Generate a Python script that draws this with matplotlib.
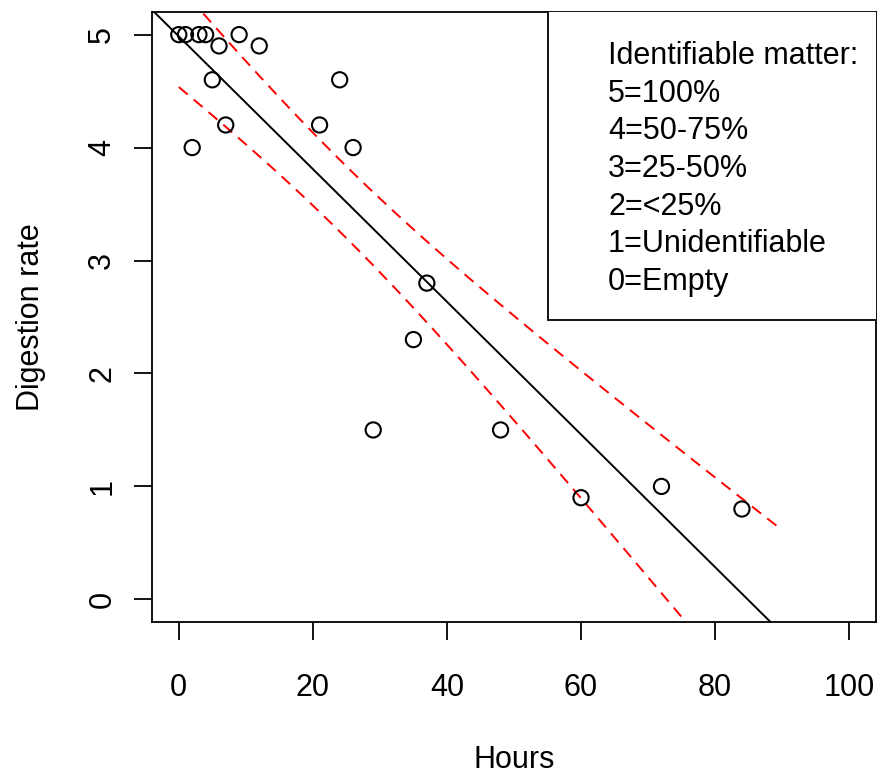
import matplotlib
matplotlib.use("Agg")
import matplotlib.pyplot as plt
import numpy as np

plt.rcParams["font.family"] = ["Liberation Sans", "DejaVu Sans"]

# stomach samples: hours since feeding vs digestion score
hours = [0, 1, 3, 4, 9, 2, 5, 6, 7, 12, 21, 24, 26, 29, 35, 37, 48, 60, 72, 84]
rate = [5, 5, 5, 5, 5, 4, 4.6, 4.9, 4.2, 4.9, 4.2, 4.6, 4.0, 1.5, 2.3, 2.8, 1.5, 0.9, 1.0, 0.8]
x_ticks = [0, 20, 40, 60, 80, 100]
y_ticks = [0, 1, 2, 3, 4, 5]
legend_lines = ["Identifiable matter:", "5=100%", "4=50-75%", "3=25-50%",
                "2=<25%", "1=Unidentifiable", "0=Empty"]

x = np.array(hours, dtype=float)
y = np.array(rate, dtype=float)

# linear fit and 95% confidence band for the mean
slope, intercept = np.polyfit(x, y, 1)
n = len(x)
resid = y - (intercept + slope * x)
s = np.sqrt(np.sum(resid ** 2) / (n - 2))
sxx = np.sum((x - x.mean()) ** 2)
t_crit = 2.101  # t(0.975, df=18)
grid = np.linspace(0, 90, 91)
fit = intercept + slope * grid
half = t_crit * s * np.sqrt(1 / n + (grid - x.mean()) ** 2 / sxx)

fig = plt.figure(figsize=(8.79, 7.76), dpi=100)
ax = fig.add_axes([0.1729, 0.1985, 0.8237, 0.786])

ax.scatter(x, y, s=120, facecolors="none", edgecolors="black", linewidths=1.5, zorder=3)
ax.axline((0, intercept), slope=slope, color="black", lw=1.4)
ax.plot(grid, fit + half, color="red", ls=(0, (6, 4)), lw=1.4)
ax.plot(grid, fit - half, color="red", ls=(0, (6, 4)), lw=1.4)

ax.set_xlim(-4, 104)
ax.set_ylim(-0.2, 5.2)
ax.set_xticks(x_ticks)
ax.set_yticks(y_ticks)
ax.tick_params(direction="out", length=13, width=1.3, labelsize=22)
ax.tick_params(axis="x", pad=24)
ax.tick_params(axis="y", pad=12)
for lab in ax.get_yticklabels():
    lab.set_rotation(90)
    lab.set_va("center")
for sp in ax.spines.values():
    sp.set_linewidth(1.3)

ax.set_xlabel("Hours", fontsize=22, labelpad=30)
ax.set_ylabel("Digestion rate", fontsize=22, labelpad=30)

# legend box in the upper right corner
ax.add_patch(plt.Rectangle((0.547, 0.495), 0.46, 0.51, transform=ax.transAxes,
                           facecolor="white", edgecolor="black", lw=1.3, zorder=4))
for i, line in enumerate(legend_lines):
    ax.text(0.63, 0.928 - i * 0.0618, line, transform=ax.transAxes,
            fontsize=22, va="center", ha="left", zorder=5)

fig.savefig("out.png", dpi=100)
